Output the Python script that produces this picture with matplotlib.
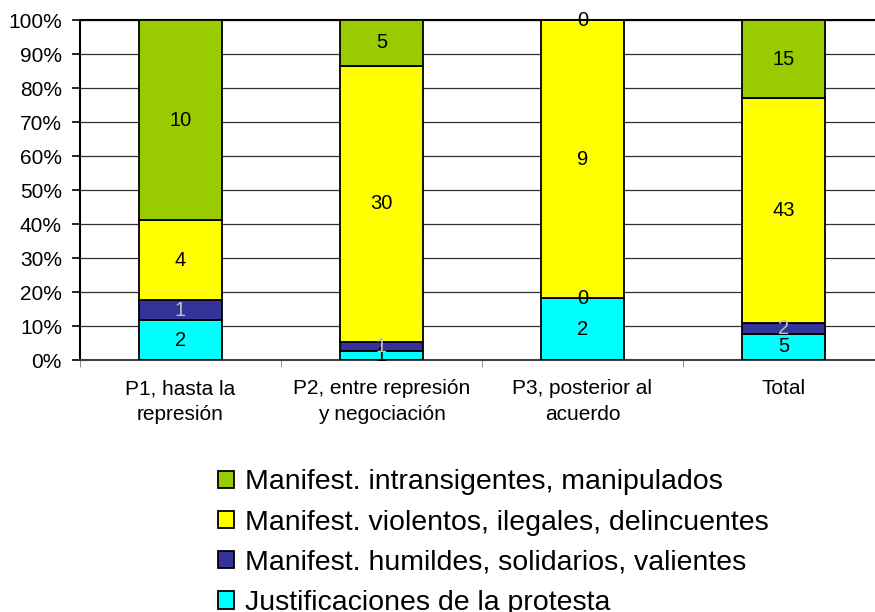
import matplotlib.pyplot as plt
import numpy as np

plt.rcParams['font.family'] = ['Liberation Sans', 'DejaVu Sans']

categorias = ["P1, hasta la\nrepresión", "P2, entre represión\ny negociación",
              "P3, posterior al\nacuerdo", "Total"]
series = ["Justificaciones de la protesta",
          "Manifest. humildes, solidarios, valientes",
          "Manifest. violentos, ilegales, delincuentes",
          "Manifest. intransigentes, manipulados"]
justificaciones = [2, 1, 2, 5]
humildes = [1, 1, 0, 2]
violentos = [4, 30, 9, 43]
intransigentes = [10, 5, 0, 15]
colores = ["#00ffff", "#333399", "#ffff00", "#99cc00"]
color_texto = ["black", "#c0c0c0", "black", "black"]

datos = np.array([justificaciones, humildes, violentos, intransigentes], dtype=float)
totales = datos.sum(axis=0)
pct = datos / totales * 100

fig = plt.figure(figsize=(8.75, 6.12), dpi=100)
ax = fig.add_axes([80 / 875, 252 / 612, 804 / 875, 340 / 612])

x = np.arange(len(categorias))
base = np.zeros(len(categorias))
for i in range(len(series)):
    ax.bar(x, pct[i], 0.41, bottom=base, color=colores[i],
           edgecolor="black", linewidth=1.3, label=series[i], zorder=3)
    for j in range(len(categorias)):
        c = color_texto[i] if datos[i][j] > 0 else "black"
        ax.text(x[j], base[j] + pct[i][j] / 2, "%d" % datos[i][j],
                ha="center", va="center", fontsize=14.5, color=c, zorder=4)
    base = base + pct[i]

ax.set_xlim(-0.5, 3.5)
ax.set_ylim(0, 100)
ax.set_yticks(range(0, 101, 10))
ax.set_yticklabels(["%d%%" % v for v in range(0, 101, 10)], fontsize=15)
ax.yaxis.grid(True, color="#303030", linewidth=0.9, zorder=0)
ax.set_xticks(x)
ax.set_xticklabels(categorias, fontsize=15, linespacing=1.45)
ax.set_xticks(np.arange(-0.5, 3.6, 1), minor=True)
ax.tick_params(axis="x", which="major", length=0, pad=14)
ax.tick_params(axis="x", which="minor", length=5, color="#808080")
ax.tick_params(axis="y", length=6, width=1.2, pad=7)
ax.spines["right"].set_visible(False)
ax.spines["left"].set_linewidth(1.5)
ax.spines["bottom"].set_linewidth(1.5)
ax.spines["bottom"].set_color("#404040")
ax.spines["top"].set_linewidth(1.5)

handles, labels = ax.get_legend_handles_labels()
fig.legend(handles[::-1], labels[::-1], loc="upper left",
           bbox_to_anchor=(207 / 875, 1 - 458 / 612), frameon=False,
           fontsize=20.5, handlelength=0.55, handleheight=0.55,
           handletextpad=0.4, labelspacing=0.5, borderaxespad=0)

fig.savefig("out.png", dpi=100)
